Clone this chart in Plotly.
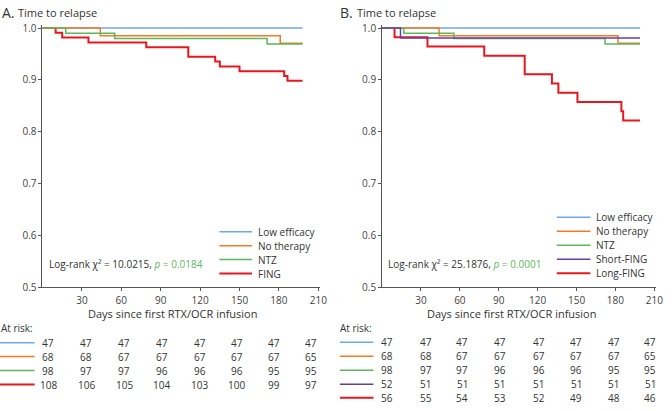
import plotly.graph_objects as go

W, H = 672, 411
FONT = "Open Sans"

# ---------------- data ----------------
groups_A = ["Low efficacy", "No therapy", "NTZ", "FING"]
groups_B = ["Low efficacy", "No therapy", "NTZ", "Short-FING", "Long-FING"]

# Panel A step curves (days, survival)
low_A_days = [0, 198]
low_A_surv = [1.0, 1.0]
noth_A_days = [0, 44, 181, 198]
noth_A_surv = [1.0, 0.9853, 0.9705, 0.9705]
ntz_A_days = [0, 17.7, 55, 171, 198]
ntz_A_surv = [1.0, 0.9898, 0.9796, 0.9694, 0.9694]
fing_A_days = [0, 10, 15, 35, 79, 111, 131.5, 135, 150, 184, 186.5, 198]
fing_A_surv = [1.0, 0.9907, 0.9815, 0.9722, 0.963, 0.9444, 0.9352, 0.9259,
               0.9167, 0.9074, 0.8981, 0.8981]

# Panel B step curves
low_B_days = [0, 199]
low_B_surv = [1.0, 1.0]
noth_B_days = [0, 44, 182, 199]
noth_B_surv = [1.0, 0.9853, 0.9705, 0.9705]
ntz_B_days = [0, 16.8, 55.4, 172, 199]
ntz_B_surv = [1.0, 0.9898, 0.9796, 0.9694, 0.9694]
short_B_days = [0, 14.2, 199]
short_B_surv = [1.0, 0.9808, 0.9808]
long_B_days = [0, 9.6, 35, 78.8, 110, 131, 136, 150.7, 184.6, 186, 199]
long_B_surv = [1.0, 0.9821, 0.9643, 0.9464, 0.9107, 0.8929, 0.875, 0.8571,
               0.8393, 0.8214, 0.8214]

# Number at risk
risk_A = [
    [47, 47, 47, 47, 47, 47, 47, 47],
    [68, 68, 67, 67, 67, 67, 67, 65],
    [98, 97, 97, 96, 96, 96, 95, 95],
    [108, 106, 105, 104, 103, 100, 99, 97],
]
risk_B = [
    [47, 47, 47, 47, 47, 47, 47, 47],
    [68, 68, 67, 67, 67, 67, 67, 65],
    [98, 97, 97, 96, 96, 96, 95, 95],
    [52, 51, 51, 51, 51, 51, 51, 51],
    [56, 55, 54, 53, 52, 49, 48, 46],
]

x_ticks = [30, 60, 90, 120, 150, 180, 210]
y_ticks = [0.5, 0.6, 0.7, 0.8, 0.9, 1.0]
y_ticklabels = ["0.5", "0.6", "0.7", "0.8", "0.9", "1.0"]

chi_A, p_A = "10.0215", "0.0184"
chi_B, p_B = "25.1876", "0.0001"

# ---------------- style ----------------
C_BLUE = "#6ea8f2"
C_ORANGE = "#f47b22"
C_GREEN = "#5cb85a"
C_PURPLE = "#6a3ea1"
C_RED = "#e8161d"
colors_A = [C_BLUE, C_ORANGE, C_GREEN, C_RED]
colors_B = [C_BLUE, C_ORANGE, C_GREEN, C_PURPLE, C_RED]
widths_A = [1.5, 1.5, 1.5, 2]
widths_B = [1.5, 1.5, 1.5, 1.5, 2]
AX = "#555555"
TXT = "#333333"


def px(x):
    return x / W


def py(y):
    return 1 - y / H


fig = go.Figure()

series_A = [(low_A_days, low_A_surv), (noth_A_days, noth_A_surv),
            (ntz_A_days, ntz_A_surv), (fing_A_days, fing_A_surv)]
series_B = [(low_B_days, low_B_surv), (noth_B_days, noth_B_surv),
            (ntz_B_days, ntz_B_surv), (short_B_days, short_B_surv),
            (long_B_days, long_B_surv)]

order_A = [0, 3, 1, 2]
order_B = [0, 4, 1, 2, 3]
for i in order_A:
    d, s = series_A[i]
    fig.add_trace(go.Scatter(x=d, y=s, mode="lines", line_shape="hv",
                             line=dict(color=colors_A[i], width=widths_A[i]),
                             name=groups_A[i], showlegend=False,
                             xaxis="x", yaxis="y"))
for i in order_B:
    d, s = series_B[i]
    fig.add_trace(go.Scatter(x=d, y=s, mode="lines", line_shape="hv",
                             line=dict(color=colors_B[i], width=widths_B[i]),
                             name=groups_B[i], showlegend=False,
                             xaxis="x2", yaxis="y2"))

axis_common = dict(showgrid=False, zeroline=False, showline=True,
                   linecolor=AX, linewidth=1, ticks="outside", ticklen=3,
                   tickcolor=AX, ticklabeloverflow="allow",
                   tickfont=dict(family=FONT, size=10, color="#444"))

ydom = [py(291), py(21.5)]
xdomA = [px(43), px(323.5)]
xdomB = [px(386.7), px(663.5)]

fig.update_layout(
    width=W, height=H, margin=dict(l=0, r=0, t=0, b=0),
    paper_bgcolor="white", plot_bgcolor="white",
    font=dict(family=FONT, color=TXT),
    xaxis=dict(domain=xdomA, range=[0, 211], tickvals=x_ticks, anchor="y",
               ticklabelstandoff=1, **axis_common),
    yaxis=dict(domain=ydom, range=[0.5, 1.006], tickvals=y_ticks,
               ticktext=y_ticklabels, anchor="x", **axis_common),
    xaxis2=dict(domain=xdomB, range=[0, 211], tickvals=x_ticks, anchor="y2",
                ticklabelstandoff=1, **axis_common),
    yaxis2=dict(domain=ydom, range=[0.5, 1.006], tickvals=y_ticks,
                ticktext=y_ticklabels, anchor="x2", **axis_common),
)

ann = []
shapes = []


def text(x, y, s, size=10, anchor="left", color=TXT, pad=1):
    ann.append(dict(x=px(x), y=py(y), xref="paper", yref="paper",
                    xanchor=anchor, yanchor="middle", showarrow=False,
                    borderpad=pad, borderwidth=pad,
                    text=s, font=dict(family=FONT, size=size, color=color)))


# Titles
text(0, 9, "A.", size=14)
text(16.5, 9, "Time to relapse", size=11)
text(342, 9, "B.", size=14)
text(359, 9, "Time to relapse", size=11)

# Axis titles
text(175, 318.5, "Days since first RTX/OCR infusion", size=11, anchor="center", pad=0)
text(518.5, 318.5, "Days since first RTX/OCR infusion", size=11, anchor="center", pad=0)

# Log-rank texts
for xl, chi, p in [(48, chi_A, p_A), (391, chi_B, p_B)]:
    text(xl, 267,
         f"Log-rank χ² = {chi}, <span style='color:{C_GREEN}'><i>p</i> = {p}</span>")


# Manual legends
def legend(names, cols, widths, rows_y, x0, x1, xt):
    for n, c, w, yy in zip(names, cols, widths, rows_y):
        shapes.append(dict(type="line", xref="paper", yref="paper",
                           x0=px(x0), x1=px(x1), y0=py(yy), y1=py(yy),
                           line=dict(color=c, width=w)))
        text(xt, yy, n)


legend(groups_A, colors_A, widths_A, [234, 248.3, 262.6, 277], 222, 255, 259)
legend(groups_B, colors_B, widths_B, [219, 233.5, 248, 262.3, 276.7], 563.5, 597.5, 601)


# At-risk tables
def table(risk, cols, widths, x_label, rows_y, line_x0, line_x1, col_x):
    text(x_label, 333, "At risk:")
    for r, c, w, yy in zip(risk, cols, widths, rows_y):
        shapes.append(dict(type="line", xref="paper", yref="paper",
                           x0=px(line_x0), x1=px(line_x1), y0=py(yy), y1=py(yy),
                           line=dict(color=c, width=w)))
        for v, cx in zip(r, col_x):
            text(cx, yy, str(v), anchor="center")


colA = [49, 87.5, 125.5, 163.5, 202, 239.5, 277, 315]
colB = [391.5, 431, 468, 506, 545, 583, 621, 658]
table(risk_A, colors_A, widths_A, -1.5, [348, 362.3, 376.6, 391], 0, 35, colA)
table(risk_B, colors_B, widths_B, 342, [347.5, 362, 376.3, 390.6, 404.5], 344, 378, colB)

fig.update_layout(annotations=ann, shapes=shapes)
fig.write_html("out.html",
               config={"displayModeBar": False},
               post_script="document.body.style.margin='0';document.body.style.padding='0';")
